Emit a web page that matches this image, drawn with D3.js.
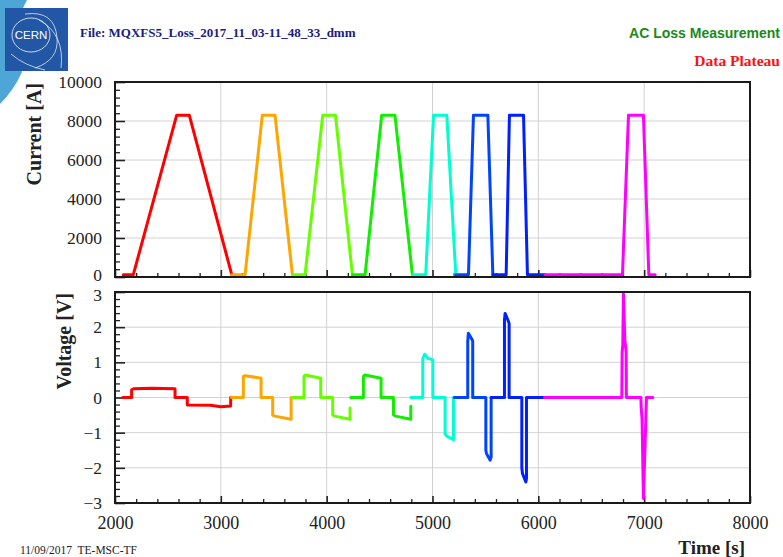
<!DOCTYPE html>
<html>
<head>
<meta charset="utf-8">
<script src="https://cdn.jsdelivr.net/npm/d3@7"></script>
<style>
  html, body { margin: 0; padding: 0; background: #fff; }
  svg { display: block; }
</style>
</head>
<body>
<svg id="chart" width="783" height="557"></svg>
<script>
// ---- data: time [s] vs magnet current [A], one array per cycle ----
const currentRun1 = [[2078,120],[2173,120],[2583,8300],[2702,8300],[3103,120]];
const currentRun2 = [[3103,120],[3229,120],[3392,8300],[3512,8300],[3676,120]];
const currentRun3 = [[3676,120],[3796,120],[3963,8300],[4083,8300],[4243,120]];
const currentRun4 = [[4243,120],[4363,120],[4520,8300],[4645,8300],[4810,120]];
const currentRun5 = [[4810,120],[4936,120],[5010,8300],[5135,8300],[5220,120]];
const currentRun6 = [[5220,120],[5340,120],[5387,8300],[5523,8300],[5570,120]];
const currentRun7 = [[5570,120],[5696,120],[5727,8300],[5860,8300],[5897,120],[6064,120]];
const currentRun8 = [[6064,120],[6795,120],[6852,8300],[6993,8300],[7044,120],[7104,120]];

// ---- data: time [s] vs magnet voltage [V], one array per cycle ----
const voltageRun1 = [[2073,0],[2157,0],[2157,0.22],[2175,0.25],[2350,0.26],[2567,0.25],[2567,0],[2683,0],[2683,-0.21],[2900,-0.22],[3000,-0.26],[3093,-0.24],[3093,0]];
const voltageRun2 = [[3100,0],[3213,0],[3213,0.6],[3230,0.62],[3380,0.55],[3380,0],[3490,0],[3490,-0.5],[3510,-0.53],[3664,-0.62],[3664,0]];
const voltageRun3 = [[3676,0],[3786,0],[3786,0.6],[3800,0.64],[3944,0.55],[3944,0],[4057,0],[4057,-0.49],[4075,-0.53],[4221,-0.62],[4221,-0.3]];
const voltageRun4 = [[4228,0],[4347,0],[4347,0.6],[4362,0.64],[4514,0.55],[4514,0],[4631,0],[4631,-0.49],[4650,-0.53],[4795,-0.62],[4795,-0.25]];
const voltageRun5 = [[4795,0],[4908,0],[4908,1.1],[4925,1.23],[4960,1.11],[5003,1.07],[5003,0],[5119,0],[5119,-1.04],[5135,-1.1],[5198,-1.2],[5198,0]];
const voltageRun6 = [[5205,0],[5333,0],[5333,1.6],[5339,1.83],[5375,1.64],[5380,1.6],[5380,0],[5504,0],[5504,-1.5],[5510,-1.59],[5544,-1.78],[5554,-1.7],[5554,0]];
const voltageRun7 = [[5554,0],[5680,0],[5680,2.2],[5686,2.39],[5718,2.16],[5724,2.1],[5724,0],[5844,0],[5844,-2.0],[5850,-2.16],[5882,-2.4],[5888,-2.3],[5888,0],[6058,0]];
const voltageRun8 = [[6058,0],[6789,0],[6792,1.3],[6798,1.5],[6804,2.95],[6818,1.6],[6830,1.3],[6832,0],[6969,0],[6972,-0.3],[6980,-0.6],[6993,-2.87],[7016,-0.6],[7022,0],[7082,0]];

const currentRuns = [currentRun1, currentRun2, currentRun3, currentRun4, currentRun5, currentRun6, currentRun7, currentRun8];
const voltageRuns = [voltageRun1, voltageRun2, voltageRun3, voltageRun4, voltageRun5, voltageRun6, voltageRun7, voltageRun8];
const runColors = ["#ff0000", "#ffa500", "#66ff00", "#11ee00", "#00ffd0", "#0044ff", "#0020ff", "#ff00ff"];

// ---- axis ticks ----
const timeTicks = [2000, 3000, 4000, 5000, 6000, 7000, 8000];
const currentTicks = [0, 2000, 4000, 6000, 8000, 10000];
const voltageTicks = [-3, -2, -1, 0, 1, 2, 3];

const svg = d3.select("#chart");
const serif = "'Liberation Serif', 'Times New Roman', serif";
const sans = "'Liberation Sans', Arial, sans-serif";

// ---- header ----
svg.append("path")
  .attr("d", "M0,0 L27,0 Q6,38 22,72 Q14,90 0,104 Z")
  .attr("fill", "#4ea6d6");
const logo = svg.append("g").attr("transform", "translate(5,8)");
logo.append("rect").attr("width", 63).attr("height", 63).attr("fill", "#2257a5");
logo.append("ellipse").attr("cx", 26).attr("cy", 27).attr("rx", 19).attr("ry", 17)
  .attr("fill", "none").attr("stroke", "#dfe8f5").attr("stroke-width", 0.9);
logo.append("path").attr("d", "M20,6 Q50,2 52,30 Q54,52 30,60")
  .attr("fill", "none").attr("stroke", "#dfe8f5").attr("stroke-width", 0.8);
logo.append("path").attr("d", "M34,12 Q60,26 56,60")
  .attr("fill", "none").attr("stroke", "#dfe8f5").attr("stroke-width", 0.8);
logo.append("path").attr("d", "M6,46 Q20,58 40,62")
  .attr("fill", "none").attr("stroke", "#dfe8f5").attr("stroke-width", 0.8);
logo.append("text").attr("x", 26).attr("y", 31).attr("text-anchor", "middle")
  .attr("font-family", sans).attr("font-size", 11.5).attr("fill", "#ffffff").text("CERN");

svg.append("text").attr("x", 80).attr("y", 37)
  .attr("font-family", serif).attr("font-weight", "bold").attr("font-size", 13)
  .attr("fill", "#1c1c80").text("File: MQXFS5_Loss_2017_11_03-11_48_33_dmm");
svg.append("text").attr("x", 780).attr("y", 38).attr("text-anchor", "end")
  .attr("font-family", sans).attr("font-weight", "bold").attr("font-size", 14)
  .attr("fill", "#1a8a1a").text("AC Loss Measurement");
svg.append("text").attr("x", 780).attr("y", 66).attr("text-anchor", "end")
  .attr("font-family", serif).attr("font-weight", "bold").attr("font-size", 15.5)
  .attr("fill", "#ff1010").text("Data Plateau");

// ---- scales ----
const xLeft = 115, xRight = 750;
const x = d3.scaleLinear().domain([2000, 8000]).range([xLeft, xRight]);
const yI = d3.scaleLinear().domain([0, 10000]).range([277, 82]);
const yV = d3.scaleLinear().domain([-3, 3]).range([503, 292]);

function minors(major, step) {
  const out = [];
  const lo = major[0], hi = major[major.length - 1];
  for (let v = lo; v <= hi + 1e-9; v += step) {
    const r = Math.round(v * 1000) / 1000;
    if (!major.some(m => Math.abs(m - r) < 1e-6)) out.push(r);
  }
  return out;
}

// edgeShift nudges the lowest / highest tick label so the two stacked panels' labels stay apart
function panel(yScale, yTicks, yMinorStep, showXLabels, edgeShift) {
  const [yb, yt] = yScale.range();
  const g = svg.append("g");
  // grid
  g.append("g").selectAll("line").data(timeTicks.slice(1, -1)).join("line")
    .attr("x1", d => x(d)).attr("x2", d => x(d)).attr("y1", yt).attr("y2", yb)
    .attr("stroke", "#d2d2d2").attr("stroke-width", 1);
  g.append("g").selectAll("line").data(yTicks.slice(1, -1)).join("line")
    .attr("x1", xLeft).attr("x2", xRight).attr("y1", d => yScale(d)).attr("y2", d => yScale(d))
    .attr("stroke", "#d2d2d2").attr("stroke-width", 1);

  // left axis: major + minor ticks pointing inward
  const left = g.append("g").attr("transform", `translate(${xLeft},0)`)
    .call(d3.axisLeft(yScale).tickValues(yTicks).tickSize(-10).tickPadding(13).tickFormat(d3.format("d")));
  left.select(".domain").remove();
  left.selectAll("line").attr("stroke", "#222").attr("stroke-width", 1.6);
  left.selectAll("text").attr("font-family", serif).attr("font-size", 17.5).attr("fill", "#222")
    .attr("y", (d, i, n) => i === 0 ? edgeShift[0] : (i === n.length - 1 ? edgeShift[1] : 0));
  const leftMinor = g.append("g").attr("transform", `translate(${xLeft},0)`)
    .call(d3.axisLeft(yScale).tickValues(minors(yTicks, yMinorStep)).tickSize(-5).tickFormat(""));
  leftMinor.select(".domain").remove();
  leftMinor.selectAll("line").attr("stroke", "#222").attr("stroke-width", 1.3);

  // bottom axis
  const bottom = g.append("g").attr("transform", `translate(0,${yb})`)
    .call(d3.axisBottom(x).tickValues(timeTicks).tickSize(-7).tickPadding(13)
      .tickFormat(showXLabels ? d3.format("d") : ""));
  bottom.select(".domain").remove();
  bottom.selectAll("line").attr("stroke", "#222").attr("stroke-width", 1.6);
  bottom.selectAll("text").attr("font-family", serif).attr("font-size", 18).attr("fill", "#222");
  const bottomMinor = g.append("g").attr("transform", `translate(0,${yb})`)
    .call(d3.axisBottom(x).tickValues(minors(timeTicks, 200)).tickSize(-4).tickFormat(""));
  bottomMinor.select(".domain").remove();
  bottomMinor.selectAll("line").attr("stroke", "#222").attr("stroke-width", 1.3);
  return g;
}

const topPanel = panel(yI, currentTicks, 400, false, [-2, 0]);
const botPanel = panel(yV, voltageTicks, 0.2, true, [0, 2.5]);

// ---- traces ----
const lineI = d3.line().x(d => x(d[0])).y(d => yI(d[1]));
const lineV = d3.line().x(d => x(d[0])).y(d => yV(d[1]));

topPanel.append("g").selectAll("path").data(currentRuns).join("path")
  .attr("d", lineI).attr("fill", "none")
  .attr("stroke", (d, i) => runColors[i]).attr("stroke-width", 3)
  .attr("stroke-linejoin", "round").attr("stroke-linecap", "round");
botPanel.append("g").selectAll("path").data(voltageRuns).join("path")
  .attr("d", lineV).attr("fill", "none")
  .attr("stroke", (d, i) => runColors[i]).attr("stroke-width", 3)
  .attr("stroke-linejoin", "round").attr("stroke-linecap", "round");

// ---- frames ----
[yI, yV].forEach(s => {
  const [yb, yt] = s.range();
  svg.append("rect").attr("x", xLeft).attr("y", yt).attr("width", xRight - xLeft).attr("height", yb - yt)
    .attr("fill", "none").attr("stroke", "#1a1a1a").attr("stroke-width", 2);
});

// ---- axis titles & footer ----
svg.append("text").attr("transform", "translate(41,83) rotate(-90)").attr("text-anchor", "end")
  .attr("font-family", serif).attr("font-weight", "bold").attr("font-size", 20)
  .attr("fill", "#222").text("Current [A]");
svg.append("text").attr("transform", "translate(71,293) rotate(-90)").attr("text-anchor", "end")
  .attr("font-family", serif).attr("font-weight", "bold").attr("font-size", 20)
  .attr("fill", "#222").text("Voltage [V]");
svg.append("text").attr("x", 745).attr("y", 554).attr("text-anchor", "end")
  .attr("font-family", serif).attr("font-weight", "bold").attr("font-size", 19)
  .attr("fill", "#222").text("Time [s]");
svg.append("text").attr("x", 20).attr("y", 554)
  .attr("font-family", serif).attr("font-size", 11.5)
  .attr("fill", "#222").style("white-space", "pre")
  .text("11/09/2017  TE-MSC-TF");
</script>
</body>
</html>
